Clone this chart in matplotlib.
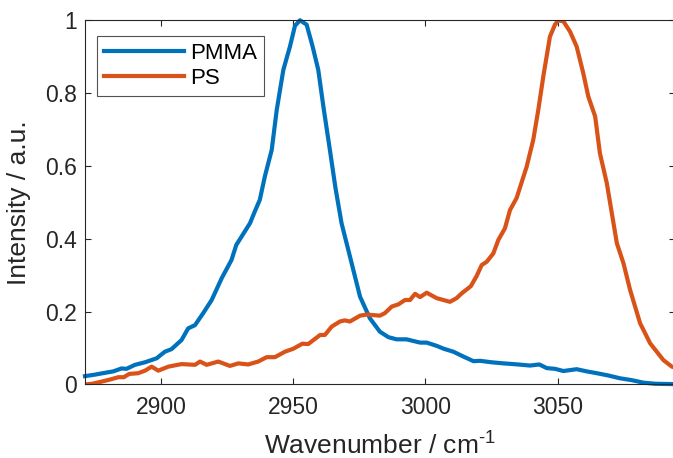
import matplotlib
matplotlib.use("Agg")
import matplotlib.pyplot as plt

plt.rcParams['font.family'] = ['Liberation Sans', 'DejaVu Sans']
plt.rcParams['mathtext.fontset'] = 'custom'
plt.rcParams['mathtext.rm'] = 'Liberation Sans'

# PMMA spectrum (wavenumber, normalised intensity)
pmma_x = [2871.3, 2875, 2878.8, 2882, 2885.1, 2887, 2890.2, 2894, 2898.4, 2901.5,
          2904, 2907.8, 2910.3, 2912.9, 2916, 2919.2, 2923, 2926.7, 2928.5, 2932.4,
          2933.7, 2935.5, 2937.4, 2939.3, 2941.9, 2943.8, 2946.3, 2948.8, 2950.7, 2952.6,
          2955.1, 2957.3, 2959.5, 2961.5, 2963.9, 2966, 2968.3, 2971.5, 2975.3, 2979,
          2982.8, 2986, 2989.1, 2992.9, 2998, 3000.5, 3004.3, 3007, 3010.6, 3014,
          3018.2, 3020.7, 3025, 3029.5, 3035, 3039.6, 3043.1, 3045.9, 3049, 3052.2,
          3057.2, 3061, 3064.8, 3069, 3073.6, 3078, 3082.4, 3087, 3094]
pmma_y = [0.023, 0.027, 0.032, 0.036, 0.044, 0.043, 0.054, 0.061, 0.072, 0.090,
          0.097, 0.122, 0.154, 0.163, 0.196, 0.232, 0.292, 0.342, 0.383, 0.428,
          0.443, 0.475, 0.507, 0.571, 0.644, 0.754, 0.864, 0.928, 0.985, 1.0,
          0.988, 0.930, 0.864, 0.760, 0.644, 0.540, 0.443, 0.351, 0.241, 0.182,
          0.145, 0.130, 0.124, 0.124, 0.115, 0.115, 0.106, 0.098, 0.090, 0.078,
          0.064, 0.065, 0.061, 0.058, 0.055, 0.052, 0.055, 0.045, 0.043, 0.037,
          0.042, 0.036, 0.031, 0.025, 0.017, 0.012, 0.005, 0.002, 0.001]

# PS spectrum
ps_x = [2871.3, 2874, 2877.6, 2880.5, 2883.9, 2886, 2888, 2891.4, 2894, 2896.5,
        2899, 2902.8, 2907.8, 2912.9, 2914.8, 2917.3, 2921.7, 2926.1, 2929.3, 2933,
        2936.8, 2940, 2943.1, 2946.9, 2950, 2953.5, 2955.7, 2960.2, 2962, 2964.6,
        2967.7, 2969.5, 2971.5, 2975.3, 2977.8, 2982.8, 2984.7, 2987.3, 2989.8, 2992.3,
        2994.2, 2996.1, 2998, 3000.5, 3004.3, 3009.3, 3011.8, 3013.7, 3017.2, 3019.4,
        3021.3, 3023.2, 3025.7, 3027.6, 3030.1, 3032, 3034.5, 3038.3, 3040.8, 3042.7,
        3044.6, 3047.1, 3049, 3050.3, 3052.2, 3054.7, 3057.2, 3059.7, 3061.6, 3064.2,
        3066, 3068.6, 3072.4, 3074.9, 3077.4, 3081.2, 3085, 3090, 3093.2, 3095]
ps_y = [0.0, 0.002, 0.008, 0.013, 0.020, 0.020, 0.029, 0.031, 0.038, 0.049,
        0.038, 0.049, 0.056, 0.054, 0.063, 0.054, 0.063, 0.051, 0.058, 0.055,
        0.063, 0.075, 0.075, 0.090, 0.098, 0.112, 0.111, 0.136, 0.136, 0.159,
        0.173, 0.176, 0.173, 0.189, 0.192, 0.189, 0.196, 0.214, 0.220, 0.232,
        0.232, 0.249, 0.240, 0.252, 0.237, 0.227, 0.237, 0.250, 0.270, 0.298,
        0.328, 0.337, 0.360, 0.397, 0.429, 0.479, 0.512, 0.598, 0.672, 0.754,
        0.846, 0.955, 0.988, 1.0, 0.997, 0.969, 0.928, 0.855, 0.791, 0.736,
        0.635, 0.553, 0.388, 0.333, 0.260, 0.168, 0.113, 0.067, 0.049, 0.045]

xticks = [2900, 2950, 3000, 3050]
yticks = [0, 0.2, 0.4, 0.6, 0.8, 1]
ytick_labels = ["0", "0.2", "0.4", "0.6", "0.8", "1"]

fig = plt.figure(figsize=(6.73, 4.58), dpi=100)
ax = fig.add_axes([0.1263, 0.1605, 0.8767, 0.7952])

ax.plot(pmma_x, pmma_y, color='#0072BD', lw=3, label='PMMA', clip_on=False)
ax.plot(ps_x, ps_y, color='#D95319', lw=3, label='PS')

ax.set_xlim(2871.3, 3094.4)
ax.set_ylim(0, 1)
ax.set_xticks(xticks)
ax.set_yticks(yticks)
ax.set_yticklabels(ytick_labels)

tc = '#262626'
for s in ax.spines.values():
    s.set_color(tc)
    s.set_linewidth(0.8)
ax.tick_params(direction='in', length=4, width=0.8, color=tc, labelcolor=tc,
               labelsize=16.5, top=True, right=True)
ax.tick_params(axis='x', pad=8)
ax.tick_params(axis='y', pad=6)

ax.set_xlabel(r'Wavenumber / cm$^{\text{-1}}$', fontsize=19, color=tc, labelpad=9)
ax.set_ylabel('Intensity / a.u.', fontsize=19, color=tc, labelpad=10)

leg = ax.legend(loc='upper left', bbox_to_anchor=(0.0203, 0.957), borderaxespad=0,
                fontsize=16, frameon=True, fancybox=False, handlelength=3.6,
                handletextpad=0.3, labelspacing=0.2, borderpad=0.3)
leg.get_frame().set_edgecolor(tc)
leg.get_frame().set_linewidth(0.8)
for t in leg.get_texts():
    t.set_color('black')

fig.savefig('out.png', dpi=100)
